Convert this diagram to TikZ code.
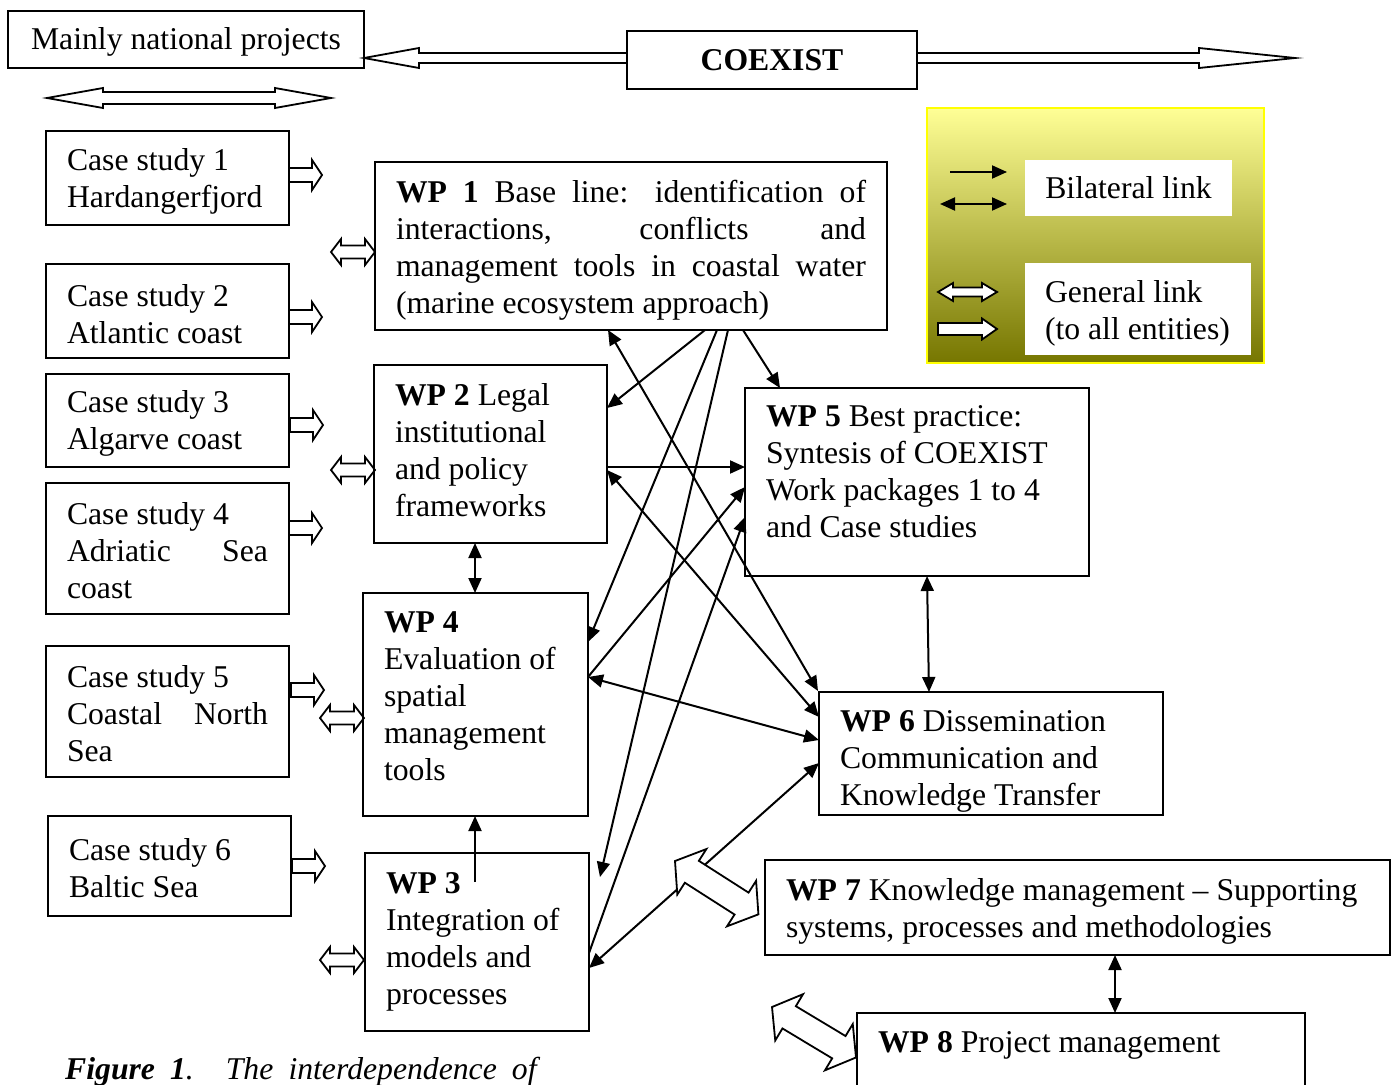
\documentclass[tikz,border=0pt]{standalone}
\usepackage{fontspec}
\setmainfont{Liberation Serif}
\usetikzlibrary{arrows.meta,calc}
\newcommand\fsz{\fontsize{31.7}{37}\selectfont\hyphenpenalty=10000\relax}
\newcommand\nsp{\spaceskip=0pt\xspaceskip=0pt\relax}
\newcommand\jline[2]{\makebox[#1][s]{\nsp #2}}
\definecolor{legtop}{RGB}{255,255,150}
\definecolor{legmid}{RGB}{222,222,92}
\definecolor{legbot}{RGB}{118,118,0}
\tikzset{
  box/.style={draw, line width=1.8pt, rectangle, inner xsep=21pt, inner ysep=0pt, outer sep=0pt, anchor=north west, font=\fsz},
  link/.style={line width=2pt},
  harrow/.style={draw=black, fill=white, line width=1.8pt, line join=miter},
  wbox/.style={fill=white, anchor=north west, inner ysep=0pt, outer sep=0pt, font=\fsz},
  pics/sarrow/.style args={#1/#2/#3/#4}{code={
    \draw[harrow] (0,-#2) -- ({#1-#4},-#2) -- ({#1-#4},-#3) -- (#1,0) -- ({#1-#4},#3) -- ({#1-#4},#2) -- (0,#2) -- cycle;}},
  pics/darrow/.style args={#1/#2/#3/#4}{code={
    \draw[harrow] (0,0) -- (#4,-#3) -- (#4,-#2) -- ({#1-#4},-#2) -- ({#1-#4},-#3) -- (#1,0) -- ({#1-#4},#3) -- ({#1-#4},#2) -- (#4,#2) -- (#4,#3) -- cycle;}},
}
\begin{document}
\begin{tikzpicture}[x=1pt,y=-1pt,>={Triangle[length=15pt,width=13pt]}]
\useasboundingbox (0,0) rectangle (1397,1084);
\clip (0,0) rectangle (1397,1084);
\fill[white] (0,0) rectangle (1397,1084);

% top
\node[box, minimum width=356pt, minimum height=57pt] (mnp) at (8,11) {\nsp\rule{0pt}{26pt}Mainly national projects};
\node[box, minimum width=290pt, minimum height=58pt] (coexist) at (627,31) {\bfseries COEXIST};
\pic[rotate=180] at (627,58) {sarrow=263/5/10/55};
\pic at (917,58) {sarrow=378/5/10/96};
\pic at (47,98) {darrow=284/6/10/56};

% legend
\node[anchor=north west, draw={rgb,255:red,255;green,255;blue,0}, line width=1.5pt, top color=legtop, middle color=legmid, bottom color=legbot, minimum width=337pt, minimum height=255pt, inner sep=0pt, outer sep=0pt] (legend) at (927,108) {};
\node[wbox, minimum width=207pt, minimum height=56pt] (bil) at (1025,160) {\nsp Bilateral link};
\node[wbox, inner xsep=20pt, minimum width=226pt, minimum height=92pt, text width=186pt] (gen) at (1025,263) {\nsp\rule{0pt}{30pt}General link\\\mbox{(to all entities)}};
\coordinate (la1) at (950,172); \coordinate (lb1) at (1007,172);
\coordinate (la2) at (940,204); \coordinate (lb2) at (1007,204);
\draw[link,->] (la1) -- (lb1);
\draw[link,<->] (la2) -- (lb2);
\pic at (938,292) {darrow=59/4.5/9/15};
\pic at (938,329) {sarrow=59/6/10.5/15};

% case studies
\node[box, minimum width=243pt, minimum height=94pt, text width=201pt] (cs1) at (46,131) {\nsp\rule{0pt}{28pt}Case study 1\\Hardangerfjord};
\node[box, minimum width=243pt, minimum height=94pt, text width=201pt] (cs2) at (46,264) {\nsp\rule{0pt}{28pt}Case study 2\\Atlantic coast};
\node[box, minimum width=243pt, minimum height=93pt, text width=201pt] (cs3) at (46,374) {\nsp\rule{0pt}{28pt}Case study 3\\Algarve coast};
\node[box, minimum width=243pt, minimum height=131pt, text width=201pt] (cs4) at (46,483) {\nsp\rule{0pt}{26pt}Case study 4\\\jline{201pt}{Adriatic Sea}\\coast};
\node[box, minimum width=243pt, minimum height=131pt, text width=201pt] (cs5) at (46,646) {\nsp\rule{0pt}{26pt}Case study 5\\\jline{201pt}{Coastal North}\\Sea};
\node[box, minimum width=243pt, minimum height=100pt, text width=201pt] (cs6) at (48,816) {\nsp\rule{0pt}{26pt}Case study 6\\Baltic Sea};

\pic at (289,175) {sarrow=33/7/15/10};
\pic at (289,317) {sarrow=33/7/15/10};
\pic at (290,425) {sarrow=33/7/15/10};
\pic at (289,528) {sarrow=33/7/15/10};
\pic at (291,690) {sarrow=33/7/15/10};
\pic at (292,866) {sarrow=33/7/15/10};
\pic at (331,252) {darrow=44/6.5/13/10};
\pic at (331,470) {darrow=44/6.5/13/10};
\pic at (320,718) {darrow=44/6.5/13/10};
\pic at (320,960) {darrow=44/6.5/13/10};

% work packages
\node[box, minimum height=168pt, text width=470pt] (wp1) at (375,162)
 {\nsp\rule{0pt}{30pt}\jline{470pt}{\textbf{WP 1} Base line: identification of}\\\jline{470pt}{interactions, conflicts and}\\\jline{470pt}{management tools in coastal water}\\(marine ecosystem approach)};
\node[box, minimum height=178pt, text width=191pt] (wp2) at (374,365)
 {\nsp\textbf{WP 2} Legal\\institutional\\and policy\\frameworks\rule[-9pt]{0pt}{9pt}};
\node[box, minimum height=223pt, text width=183pt] (wp4) at (363,593)
 {\nsp\textbf{WP 4}\\Evaluation of\\spatial\\management\\tools\rule[-17pt]{0pt}{17pt}};
\node[box, minimum height=178pt, text width=182pt] (wp3) at (365,853)
 {\nsp\textbf{WP 3}\\Integration of\\models and\\processes};
\node[box, minimum height=188pt, text width=302pt] (wp5) at (745,388)
 {\nsp\textbf{WP 5} Best practice:\\Syntesis of COEXIST\\Work packages 1 to 4\\and Case studies\rule[-21pt]{0pt}{21pt}};
\node[box, minimum height=123pt, text width=302pt] (wp6) at (819,692)
 {\nsp\rule{0pt}{36pt}\textbf{WP 6} Dissemination\\Communication and\\Knowledge Transfer};
\node[box, minimum height=95pt, text width=583pt] (wp7) at (765,860)
 {\nsp\rule{0pt}{30pt}\mbox{\textbf{WP 7} Knowledge management -- Supporting}\\systems, processes and methodologies};
\node[box, text width=406pt, text height=39pt, text depth=50pt] (wp8) at (857,1013)
 {\nsp\textbf{WP 8} Project management};

% connectors
\draw[link,->] ($(wp1.south west)+(330,0)$) -- ($(wp2.north east)+(0,43)$);
\draw[link,->] ($(wp1.south west)+(342,0)$) -- ($(wp4.north east)+(0,49)$);
\draw[link,->] ($(wp1.south west)+(353,0)$) -- ($(wp3.north east)+(11,24)$);
\draw[link,->] ($(wp1.south west)+(368,0)$) -- ($(wp5.north west)+(35,0)$);
\draw[link,<->] ($(wp1.south west)+(233,0)$) -- ($(wp6.north west)+(-1,-1)$);
\draw[link,->] ($(wp2.north east)+(0,102)$) -- ($(wp5.north west)+(0,79)$);
\draw[link,<->] ($(wp2.north east)+(0,105)$) -- ($(wp6.north west)+(0,25)$);
\draw[link,->] ($(wp4.north east)+(0,84)$) -- ($(wp5.north west)+(0,99)$);
\draw[link,<->] ($(wp4.north east)+(0,84)$) -- ($(wp6.north west)+(0,48)$);
\draw[link,->] ($(wp3.north east)+(0,100)$) -- ($(wp5.north west)+(0,129)$);
\draw[link,<->] ($(wp3.north east)+(0,115)$) -- ($(wp6.north west)+(0,71)$);
\draw[link,<->] ($(wp5.south west)+(182,0)$) -- ($(wp6.north west)+(110,0)$);
\draw[link,<->] ($(wp2.south west)+(101,0)$) -- ($(wp4.north west)+(112,0)$);
\draw[link,->] ($(wp3.north west)+(110,29)$) -- ($(wp4.south west)+(112,0)$);
\draw[link,<->] ($(wp7.south west)+(350,0)$) -- ($(wp8.north west)+(258,0)$);

\pic[rotate=-32.6] at (675,861) {darrow=99/13/27/20};
\pic[rotate=-31] at (772,1007) {darrow=98/13/27/20};

% caption
\node[anchor=base west, inner sep=0pt, font=\fsz] (cap) at (65,1079)
 {\makebox[475pt][s]{\textbf{\textit{Figure 1}}\textit{. The interdependence of}}};
\end{tikzpicture}
\end{document}
